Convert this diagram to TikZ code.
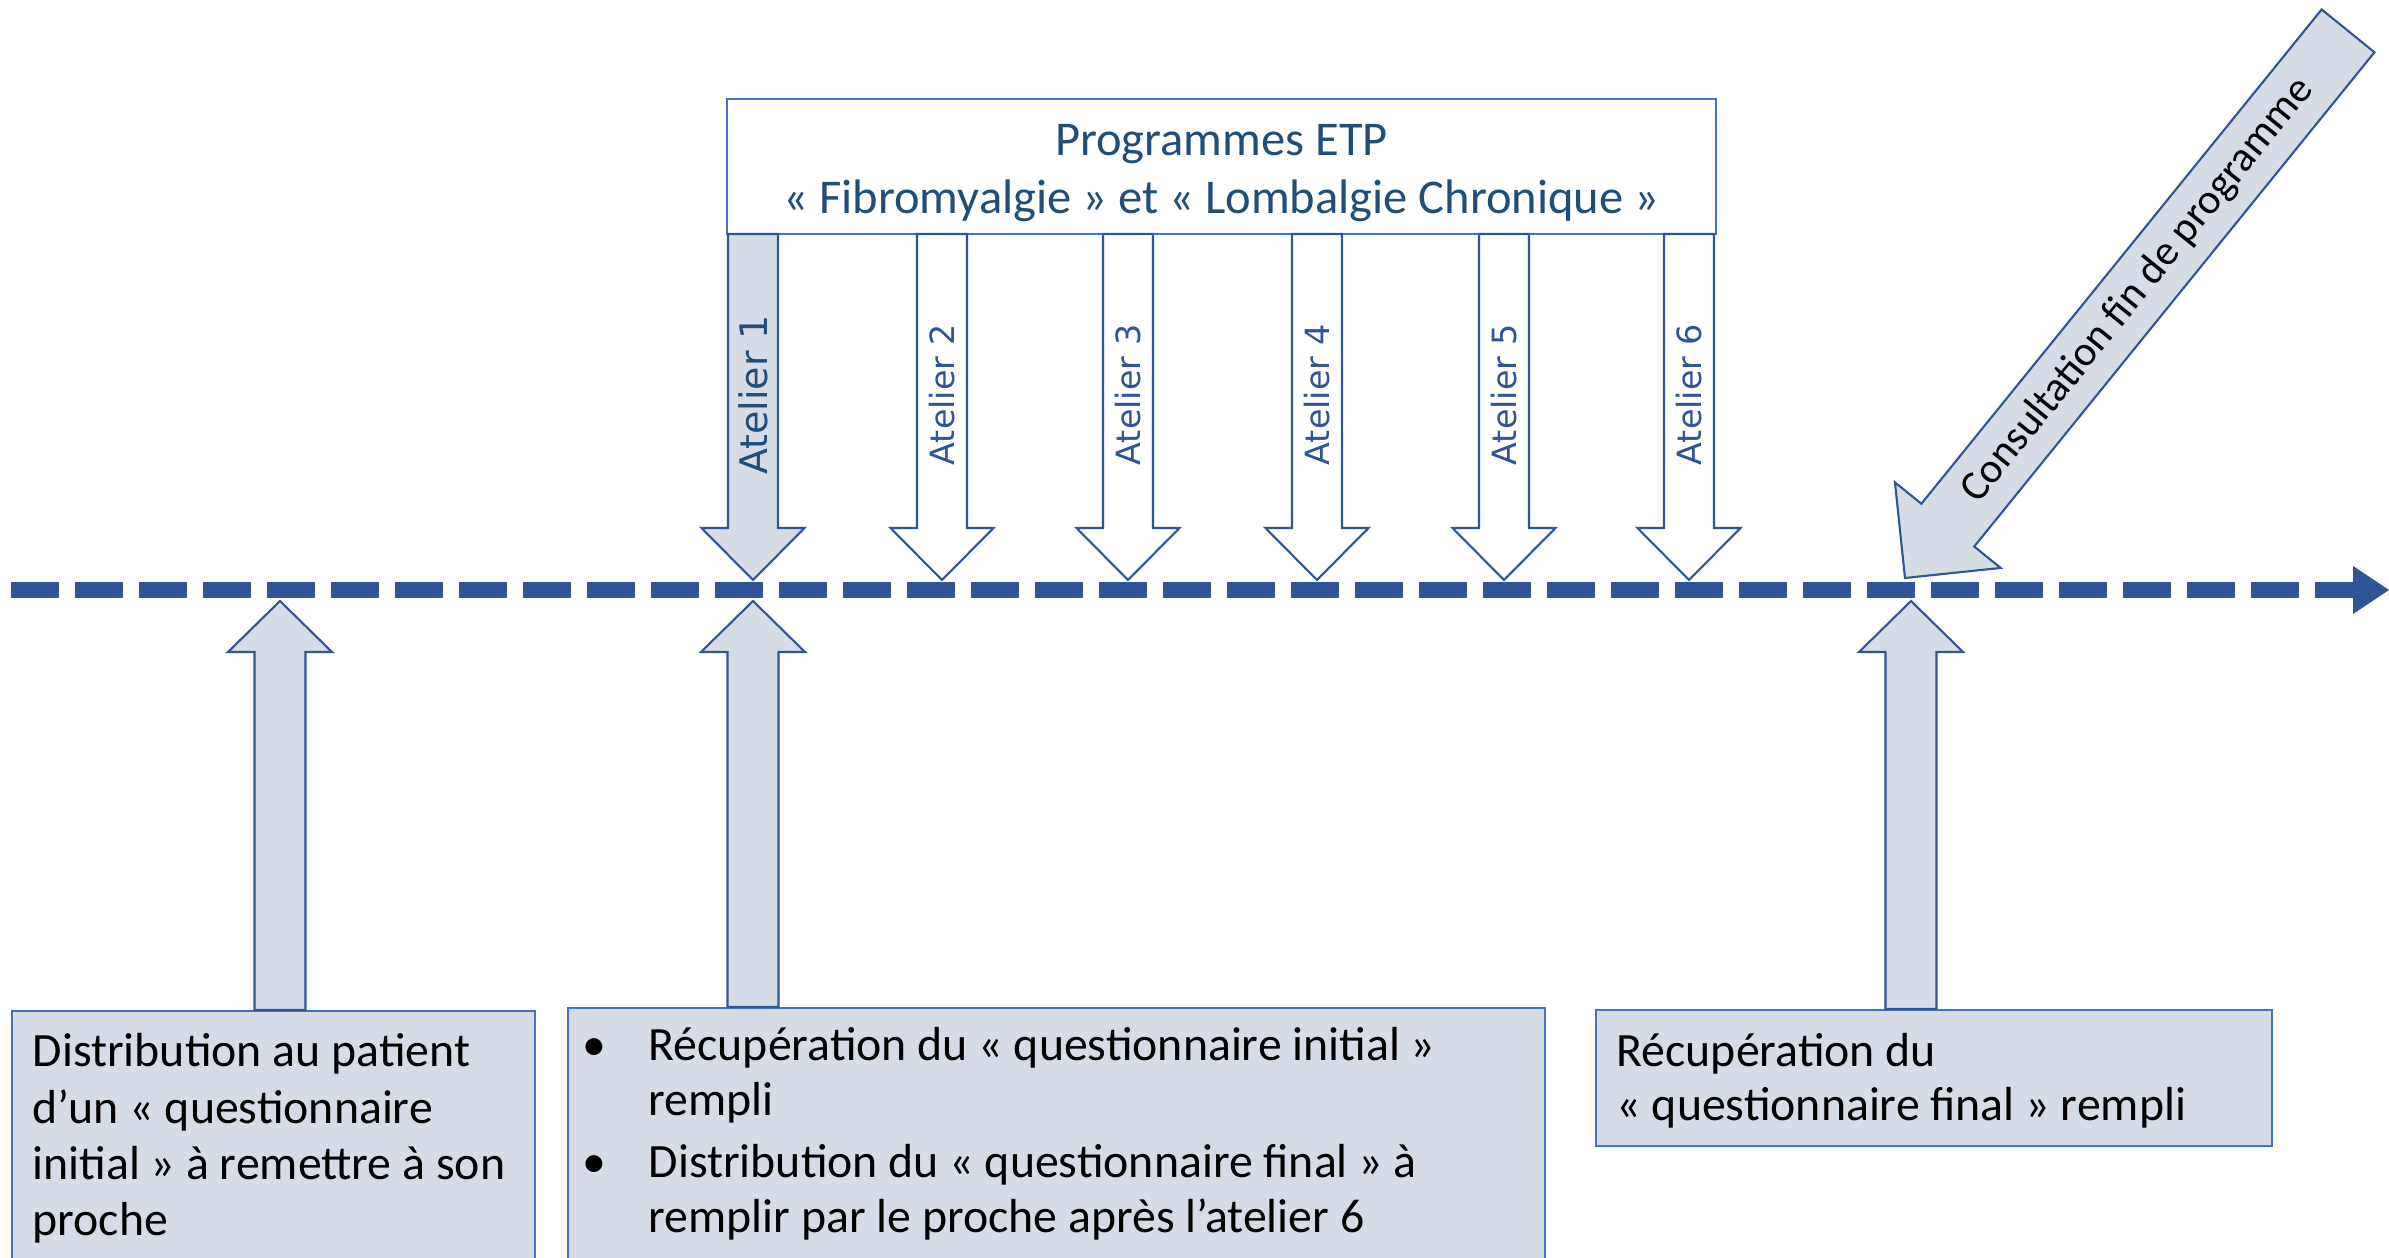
\documentclass[tikz,border=0pt]{standalone}
\usepackage{fontspec}
\setmainfont{Carlito}
\newfontfamily\atelierfont{DejaVu Sans}
\usepackage{tikz}
\usetikzlibrary{arrows.meta,positioning}
\definecolor{LineBlue}{HTML}{2F5597}
\definecolor{FrameBlue}{HTML}{4472C4}
\definecolor{PaleBlue}{HTML}{D6DCE5}
\definecolor{TitleBlue}{HTML}{1F4E79}

\begin{document}
\begin{tikzpicture}[
        timeline/.style={line width=0.16cm, LineBlue, dash pattern=on 0.48cm off 0.16cm, -{Triangle[length=0.36cm, width=0.48cm, line width=0pt]}},
        fatarrow/.style={draw=LineBlue, line width=0.6pt, fill=PaleBlue},
        infobox/.style={rectangle, draw=FrameBlue, line width=0.5pt, fill=PaleBlue, anchor=north west, inner sep=0pt},
        boxtext/.style={anchor=base west, align=left, inner sep=0pt, font=\fontsize{13.6}{16}\selectfont},
        atelier/.style={rotate=90, inner sep=0pt, text=LineBlue, font=\atelierfont\fontsize{9.5}{11}\selectfont}]

        \useasboundingbox (0,0) rectangle (23.89,12.58);

        % axe du temps
        \coordinate (t0) at (0.11,6.68);
        \coordinate (t1) at (23.89,6.68);
        \draw[timeline] (t0) -- (t1);

        % programme et ateliers
        \node[rectangle, draw=FrameBlue, line width=0.6pt, fill=white, minimum width=9.89cm, minimum height=1.35cm, align=center, text=TitleBlue, font=\fontsize{13.8}{16.3}\selectfont] (etp) at (12.215,10.915) {\rule{0pt}{12.6pt}Programmes ETP\\« Fibromyalgie » et « Lombalgie Chronique »};

        \draw[fatarrow] (7.28,10.24) -- (7.28,7.30) -- (7.015,7.30) -- (7.53,6.78) -- (8.045,7.30) -- (7.78,7.30) -- (7.78,10.24) -- cycle;
        \node[atelier, text=TitleBlue, font=\atelierfont\fontsize{10.8}{13}\selectfont] (a1) at (7.53,8.63) {Atelier 1};
        \foreach \i/\x in {2/9.42, 3/11.28, 4/13.17, 5/15.04, 6/16.89} {
            \draw[fatarrow, fill=white] (\x-0.25,10.24) -- (\x-0.25,7.30) -- (\x-0.515,7.30) -- (\x,6.78) -- (\x+0.515,7.30) -- (\x+0.25,7.30) -- (\x+0.25,10.24) -- cycle;
            \node[atelier] (a\i) at (\x,8.63) {Atelier \i};
        }

        % questionnaires
        \node[infobox, minimum width=5.23cm, minimum height=2.7cm] (b1) at (0.11,2.48) {};
        \node[infobox, minimum width=9.77cm, minimum height=2.7cm] (b2) at (5.67,2.51) {};
        \node[infobox, minimum width=6.76cm, minimum height=1.36cm] (b3) at (15.95,2.49) {};

        \node[boxtext] (t1) at (0.32,0.225) {Distribution au patient\\d’un « questionnaire\\initial » à remettre à son\\proche};
        \node[boxtext, font=\fontsize{13.6}{15.6}\selectfont] (t2) at (5.82,0.26) {\makebox[0.66cm][l]{•}Récupération du « questionnaire initial »\\\hspace*{0.66cm}rempli\\[2pt]\makebox[0.66cm][l]{•}Distribution du « questionnaire final » à\\\hspace*{0.66cm}remplir par le proche après l’atelier 6};
        \node[boxtext, font=\fontsize{13.6}{15.6}\selectfont] (t3) at (16.16,1.37) {Récupération du\\« questionnaire final » rempli};

        \foreach \x/\y in {2.80/2.48, 7.53/2.51, 19.11/2.49}
            \draw[fatarrow] (\x-0.255,\y) -- (\x-0.255,6.06) -- (\x-0.52,6.06) -- (\x,6.57) -- (\x+0.52,6.06) -- (\x+0.255,6.06) -- (\x+0.255,\y) -- cycle;

        % consultation finale
        \begin{scope}[shift={(19.05,6.80)}, rotate=51]
            \draw[fatarrow] (7.04,0.34) -- (0.68,0.34) -- (0.68,0.68) -- (0,0) -- (0.68,-0.68) -- (0.68,-0.34) -- (7.04,-0.34) -- cycle;
            \node[rotate=51, inner sep=0pt, font=\fontsize{12}{14}\selectfont] (fin) at (3.70,0) {Consultation fin de programme};
        \end{scope}
    \end{tikzpicture}
\end{document}
